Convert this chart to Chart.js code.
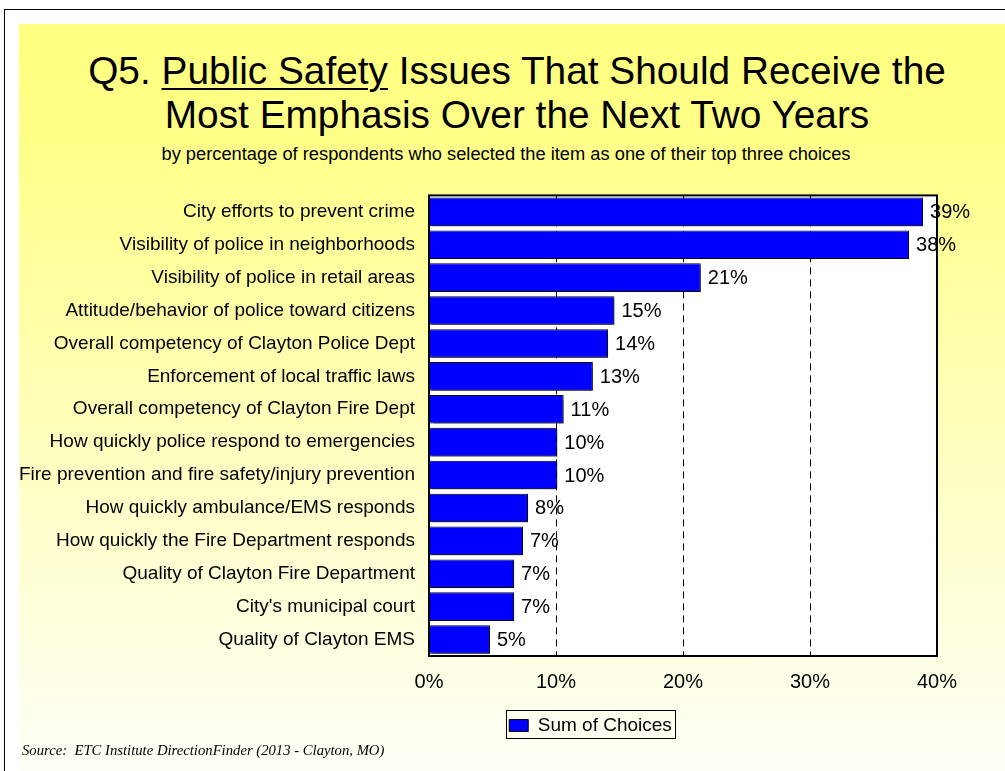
<!DOCTYPE html>
<html>
<head>
<meta charset="utf-8">
<script src="https://cdn.jsdelivr.net/npm/chart.js@4/dist/chart.umd.min.js"></script>
<style>
  html, body { margin: 0; padding: 0; background: #fff; }
  body { width: 1005px; height: 771px; overflow: hidden; position: relative; font-family: Arial, "Liberation Sans", sans-serif; }
  .frame { position: absolute; left: 4px; top: 9px; width: 1100px; height: 900px; border: 1.5px solid #000; }
  .panel { position: absolute; left: 19px; top: 24px; width: 986px; height: 747px;
           background: linear-gradient(to bottom, #ffff80 0%, #ffff88 15%, #fffff8 100%); }
  .title { position: absolute; left: 38px; width: 958px; top: 49px; text-align: center;
           font-size: 38.8px; line-height: 44px; color: #000; white-space: nowrap; }
  .title u { text-decoration-thickness: 2px; text-underline-offset: 4px; }
  .subtitle { position: absolute; left: 19px; width: 974px; top: 144px; text-align: center;
              font-size: 18.3px; line-height: 20px; color: #000; white-space: nowrap; }
  .source { position: absolute; left: 22px; top: 740px; font-family: "Times New Roman", "Liberation Serif", serif;
            font-style: italic; font-size: 14.7px; line-height: 20px; white-space: pre; color: #000; }
  #wrap { position: absolute; left: 19px; top: 170px; width: 986px; height: 601px; }
</style>
</head>
<body>
<div class="frame"></div>
<div class="panel"></div>
<div class="title">Q5. <u>Public Safety</u> Issues That Should Receive the<br>Most Emphasis Over the Next Two Years</div>
<div class="subtitle">by percentage of respondents who selected the item as one of their top three choices</div>
<div id="wrap"><canvas id="chart" width="986" height="601"></canvas></div>
<div class="source">Source:  ETC Institute DirectionFinder (2013 - Clayton, MO)</div>

<script>
// survey items, top to bottom
const issues = [
  'City efforts to prevent crime',
  'Visibility of police in neighborhoods',
  'Visibility of police in retail areas',
  'Attitude/behavior of police toward citizens',
  'Overall competency of Clayton Police Dept',
  'Enforcement of local traffic laws',
  'Overall competency of Clayton Fire Dept',
  'How quickly police respond to emergencies',
  'Fire prevention and fire safety/injury prevention',
  'How quickly ambulance/EMS responds',
  'How quickly the Fire Department responds',
  'Quality of Clayton Fire Department',
  "City's municipal court",
  'Quality of Clayton EMS'
];

// percent of respondents choosing the item in their top three
const sumOfChoices = [38.9, 37.8, 21.4, 14.6, 14.1, 12.9, 10.6, 10.1, 10.1, 7.8, 7.4, 6.7, 6.7, 4.8];

const xTicks = [0, 10, 20, 30, 40];
const seriesName = 'Sum of Choices';

const FONT = 'Arial, "Liberation Sans", sans-serif';

// white plot background
const plotBackground = {
  id: 'plotBackground',
  beforeDraw(chart) {
    const { ctx, chartArea: a } = chart;
    ctx.save();
    ctx.fillStyle = '#ffffff';
    ctx.fillRect(a.left, a.top, a.right - a.left, a.bottom - a.top);
    ctx.restore();
  }
};

// bar shadows, plot frame and the value labels
const barExtras = {
  id: 'barExtras',
  beforeDatasetsDraw(chart) {
    const ctx = chart.ctx;
    ctx.save();
    ctx.shadowColor = 'rgba(0,0,0,0.45)';
    ctx.shadowOffsetX = 2;
    ctx.shadowOffsetY = 2;
    ctx.shadowBlur = 1;
  },
  afterDatasetsDraw(chart) {
    const { ctx, chartArea: a } = chart;
    ctx.restore();

    ctx.save();
    ctx.lineWidth = 2;
    ctx.strokeStyle = '#000';
    ctx.strokeRect(a.left, a.top, a.right - a.left, a.bottom - a.top);

    ctx.fillStyle = '#000';
    ctx.font = '20px ' + FONT;
    ctx.textAlign = 'left';
    ctx.textBaseline = 'middle';
    const meta = chart.getDatasetMeta(0);
    meta.data.forEach((bar, i) => {
      const v = chart.data.datasets[0].data[i];
      ctx.fillText(Math.round(v) + '%', bar.x + 7, bar.y + 1);
    });
    ctx.restore();
  }
};

// legend sits left of the plot centre; framed with a box
const legendFrame = {
  id: 'legendFrame',
  afterLayout(chart) {
    const lg = chart.legend;
    const a = chart.chartArea;
    const target = a.left + (a.right - a.left) * 0.318;
    const shift = target - (lg.left + lg.right) / 2;
    lg.left += shift;
    lg.right += shift;
  },
  afterDraw(chart) {
    const lg = chart.legend;
    if (!lg || !lg.legendHitBoxes.length) return;
    const hb = lg.legendHitBoxes[0];
    const ctx = chart.ctx;
    ctx.save();
    ctx.lineWidth = 1;
    ctx.strokeStyle = '#000';
    ctx.strokeRect(Math.round(hb.left - 3) + 0.5, Math.round(hb.top - 6) + 0.5,
                   Math.round(hb.width + 6), Math.round(hb.height + 9));
    ctx.restore();
  }
};

new Chart(document.getElementById('chart'), {
  type: 'bar',
  data: {
    labels: issues,
    datasets: [{
      label: seriesName,
      data: sumOfChoices,
      backgroundColor: '#0000ff',
      borderColor: '#000000',
      borderWidth: 1,
      barPercentage: 0.87,
      categoryPercentage: 1.0
    }]
  },
  options: {
    indexAxis: 'y',
    responsive: false,
    animation: false,
    layout: { padding: { left: 0, right: 68, top: 19, bottom: 26 } },
    scales: {
      x: {
        min: 0,
        max: 40,
        afterBuildTicks(scale) { scale.ticks = xTicks.map(v => ({ value: v })); },
        afterFit(scale) { scale.height = 52; },
        ticks: {
          callback: v => v + '%',
          color: '#000',
          font: { family: FONT, size: 20 },
          padding: 14,
          maxRotation: 0
        },
        grid: {
          drawTicks: false,
          lineWidth: 1,
          color: ctx => (ctx.tick && ctx.tick.value > 0 && ctx.tick.value < 40) ? '#000' : 'rgba(0,0,0,0)'
        },
        border: { display: false, dash: [7, 5] }
      },
      y: {
        afterFit(scale) { scale.width = 410; },
        ticks: {
          color: '#000',
          font: { family: FONT, size: 19 },
          padding: 14,
          autoSkip: false
        },
        grid: { display: false, drawTicks: false },
        border: { display: false }
      }
    },
    plugins: {
      legend: {
        position: 'bottom',
        labels: {
          color: '#000',
          font: { family: FONT, size: 19 },
          boxWidth: 19,
          boxHeight: 12,
          padding: 8
        }
      },
      tooltip: { enabled: false }
    }
  },
  plugins: [plotBackground, barExtras, legendFrame]
});
</script>
</body>
</html>
